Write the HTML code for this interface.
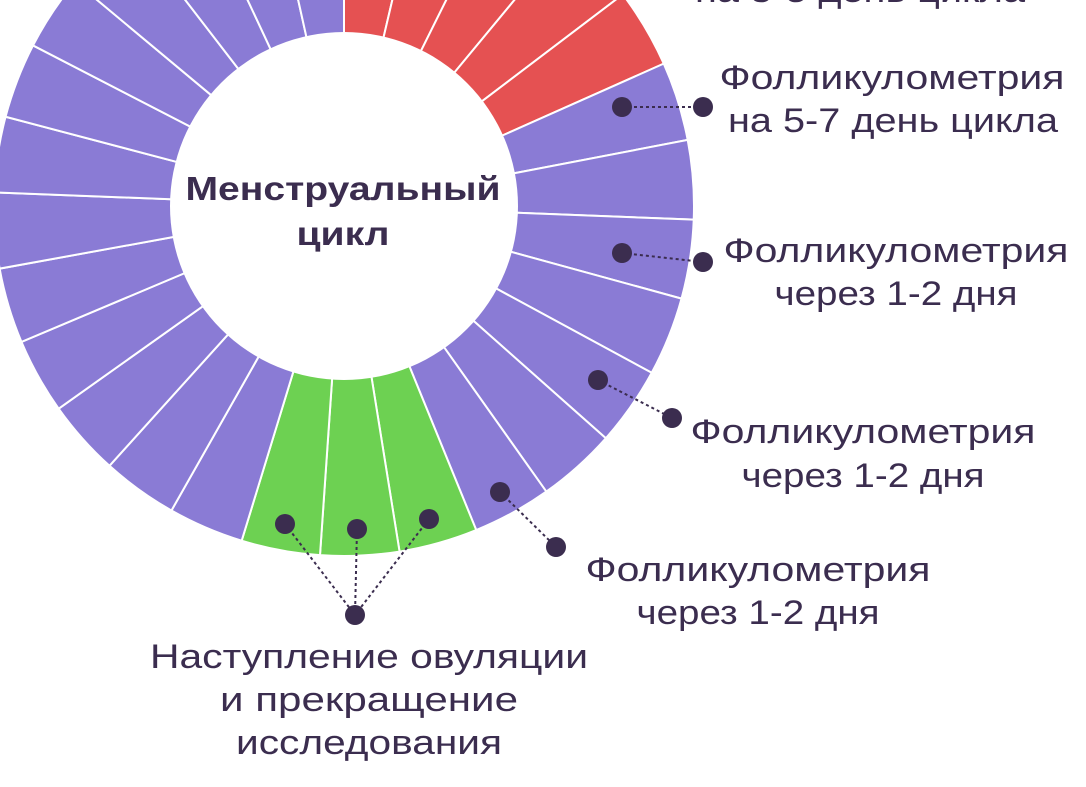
<!DOCTYPE html>
<html><head><meta charset="utf-8"><style>
html,body{margin:0;padding:0;background:#fff;}
svg{display:block;}
text{font-family:"Liberation Sans",sans-serif;fill:#3b2d4f;}
</style></head><body>
<svg id="s" width="1086" height="787" viewBox="0 0 1086 787" xmlns="http://www.w3.org/2000/svg">
<g id="segs"></g>
<circle cx="344" cy="206" r="174" fill="#fff"/>
<text x="343" y="200" text-anchor="middle" font-size="33" font-weight="bold" textLength="315" lengthAdjust="spacingAndGlyphs">Менструальный</text>
<text x="343" y="245" text-anchor="middle" font-size="33" font-weight="bold" textLength="93" lengthAdjust="spacingAndGlyphs">цикл</text>
<g font-size="34" text-anchor="middle" lengthAdjust="spacingAndGlyphs">
<text x="860" y="2" textLength="330" lengthAdjust="spacingAndGlyphs">на 3-5 день цикла</text>
<text x="892" y="89" textLength="345" lengthAdjust="spacingAndGlyphs">Фолликулометрия</text>
<text x="893" y="132" textLength="330" lengthAdjust="spacingAndGlyphs">на 5-7 день цикла</text>
<text x="896" y="262" textLength="345" lengthAdjust="spacingAndGlyphs">Фолликулометрия</text>
<text x="896" y="305" textLength="243" lengthAdjust="spacingAndGlyphs">через 1-2 дня</text>
<text x="863" y="443" textLength="345" lengthAdjust="spacingAndGlyphs">Фолликулометрия</text>
<text x="863" y="487" textLength="243" lengthAdjust="spacingAndGlyphs">через 1-2 дня</text>
<text x="758" y="581" textLength="345" lengthAdjust="spacingAndGlyphs">Фолликулометрия</text>
<text x="758" y="624" textLength="243" lengthAdjust="spacingAndGlyphs">через 1-2 дня</text>
<text x="369" y="668" textLength="438" lengthAdjust="spacingAndGlyphs">Наступление овуляции</text>
<text x="369" y="711" textLength="298" lengthAdjust="spacingAndGlyphs">и прекращение</text>
<text x="369" y="754" textLength="266" lengthAdjust="spacingAndGlyphs">исследования</text>
</g>
<g stroke="#3b2d4f" stroke-width="2" stroke-dasharray="3,3" fill="none">
<line x1="622" y1="107" x2="703" y2="107"/>
<line x1="622" y1="253" x2="703" y2="262"/>
<line x1="598" y1="380" x2="672" y2="418"/>
<line x1="500" y1="492" x2="556" y2="547"/>
<line x1="285" y1="524" x2="355" y2="615"/>
<line x1="357" y1="529" x2="355" y2="615"/>
<line x1="429" y1="519" x2="355" y2="615"/>
</g>
<g fill="#3b2d4f">
<circle cx="622" cy="107" r="10"/><circle cx="703" cy="107" r="10"/>
<circle cx="622" cy="253" r="10"/><circle cx="703" cy="262" r="10"/>
<circle cx="598" cy="380" r="10"/><circle cx="672" cy="418" r="10"/>
<circle cx="500" cy="492" r="10"/><circle cx="556" cy="547" r="10"/>
<circle cx="285" cy="524" r="10"/><circle cx="357" cy="529" r="10"/><circle cx="429" cy="519" r="10"/>
<circle cx="355" cy="615" r="10"/>
</g>
</svg>
<script>
(function(){
var g=document.getElementById('segs'),cx=344,cy=206,R=350,r=170,ns='http://www.w3.org/2000/svg';
var b=[];
function add(s,e,k,c){for(var i=0;i<k;i++)b.push([s+(e-s)*i/k,s+(e-s)*(i+1)/k,c]);}
add(0,66,5,'#e55152');add(66,157.8,7,'#8a7bd5');add(157.8,197,3,'#6dd152');add(197,360,13,'#8a7bd5');
function pt(a,rad){a=a*Math.PI/180;return [cx+rad*Math.sin(a),cy-rad*Math.cos(a)];}
b.forEach(function(s){
 var p0=pt(s[0],R),p1=pt(s[1],R),q1=pt(s[1],r),q0=pt(s[0],r);
 var d='M'+q0+' L'+p0+' A'+R+' '+R+' 0 0 1 '+p1+' L'+q1+' A'+r+' '+r+' 0 0 0 '+q0+'Z';
 var e=document.createElementNS(ns,'path');e.setAttribute('d',d);e.setAttribute('fill',s[2]);
 e.setAttribute('stroke','#fff');e.setAttribute('stroke-width','2');g.appendChild(e);
});
})();
</script>
</body></html>
